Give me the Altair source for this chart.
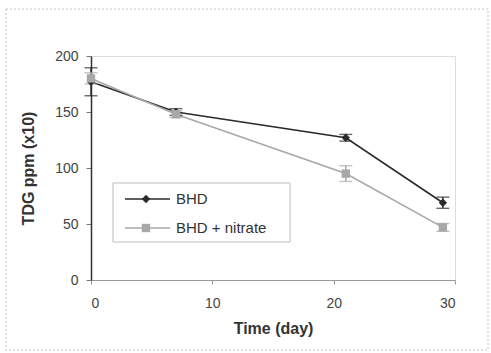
import altair as alt
import pandas as pd

# Sampling days and TDG readings (ppm x10) for the two treatments
days = [0, 7, 21, 29]
bhd = [177, 150, 127, 69]
bhd_err = [12.5, 3, 3, 5]
nitrate = [180, 148, 95, 47]
nitrate_err = [5, 3, 7, 3.5]

series_names = ["BHD", "BHD + nitrate"]
series_colors = ["#1c1c1c", "#a3a3a3"]
line_colors = ["#2a2a2a", "#a8a8a8"]

rows = []
for name, vals, errs in [(series_names[0], bhd, bhd_err), (series_names[1], nitrate, nitrate_err)]:
    for d, v, e in zip(days, vals, errs):
        rows.append({"day": d, "tdg": v, "lo": v - e, "hi": v + e, "series": name})
df = pd.DataFrame(rows)

FONT = "Liberation Sans"

x = alt.X("day:Q", scale=alt.Scale(domain=[0, 30], nice=False),
          axis=alt.Axis(values=[0, 10, 20, 30], title="Time (day)", grid=False,
                        labelFontSize=14, labelColor="#444", labelPadding=12,
                        titleFontSize=16, titleFontWeight="bold", titleColor="#333",
                        titlePadding=10, tickSize=4, tickColor="#999",
                        domainColor="#999"))
y = alt.Y("tdg:Q", scale=alt.Scale(domain=[0, 200], nice=False),
          axis=alt.Axis(values=[0, 50, 100, 150, 200], title="TDG ppm (x10)", grid=False,
                        labelFontSize=14, labelColor="#444", labelPadding=8,
                        titleFontSize=16, titleFontWeight="bold", titleColor="#333",
                        titlePadding=18, tickSize=5, tickColor="#777",
                        domainColor="#333", domainWidth=1.5))

color = alt.Color("series:N", scale=alt.Scale(domain=series_names, range=series_colors), legend=None)
lcolor = alt.Color("series:N", scale=alt.Scale(domain=series_names, range=line_colors), legend=None)
shape = alt.Shape("series:N", scale=alt.Scale(domain=series_names, range=["diamond", "square"]), legend=None)

base = alt.Chart(df)

lines = base.mark_line(strokeWidth=1.6).encode(x=x, y=y, color=lcolor, detail="series:N")
bars = base.mark_rule(strokeWidth=1.4).encode(x="day:Q", y="lo:Q", y2="hi:Q", color=color)
cap_lo = base.mark_tick(size=13, thickness=1.4, orient="horizontal").encode(x="day:Q", y="lo:Q", color=color)
cap_hi = base.mark_tick(size=13, thickness=1.4, orient="horizontal").encode(x="day:Q", y="hi:Q", color=color)
points = base.mark_point(filled=True, size=70, opacity=1).encode(x="day:Q", y="tdg:Q", color=color, shape=shape)

# Legend drawn in a bordered box inside the plot
one = pd.DataFrame({"a": [0]})
leg_box = alt.Chart(one).mark_rect(fill="white", stroke="#bdbdbd", strokeWidth=1).encode(
    x=alt.value(22), x2=alt.value(199), y=alt.value(127), y2=alt.value(186))

leg_rows = pd.DataFrame({"series": series_names, "ypix": [143, 172]})
leg_base = alt.Chart(leg_rows)
leg_lines = leg_base.mark_rule(strokeWidth=1.6).encode(
    x=alt.value(34), x2=alt.value(79), y=alt.Y("ypix:Q", scale=None), color=lcolor)
leg_pts = leg_base.mark_point(filled=True, size=70, opacity=1).encode(
    x=alt.value(55), y=alt.Y("ypix:Q", scale=None), color=color, shape=shape)
leg_text = leg_base.mark_text(align="left", baseline="middle", fontSize=15, font=FONT, color="#333").encode(
    x=alt.value(85), y=alt.Y("ypix:Q", scale=None), text="series:N")

# Thin dotted frame around the whole figure
frame = alt.Chart(one).mark_rect(fill=None, stroke="#c4c4c4", strokeDash=[2, 2], strokeWidth=1).encode(
    x=alt.value(-85), x2=alt.value(397), y=alt.value(-47), y2=alt.value(294))

chart = alt.layer(
    frame, lines, bars, cap_lo, cap_hi, points, leg_box, leg_lines, leg_pts, leg_text
).properties(
    width=364, height=224,
    autosize="none",
    padding={"left": 91, "top": 56, "right": 36, "bottom": 73},
).configure_view(
    stroke="#9a9a9a", strokeWidth=1
).configure(
    font=FONT, background="white"
)

chart.save("out.html", embed_options={"renderer": "svg", "actions": False})
